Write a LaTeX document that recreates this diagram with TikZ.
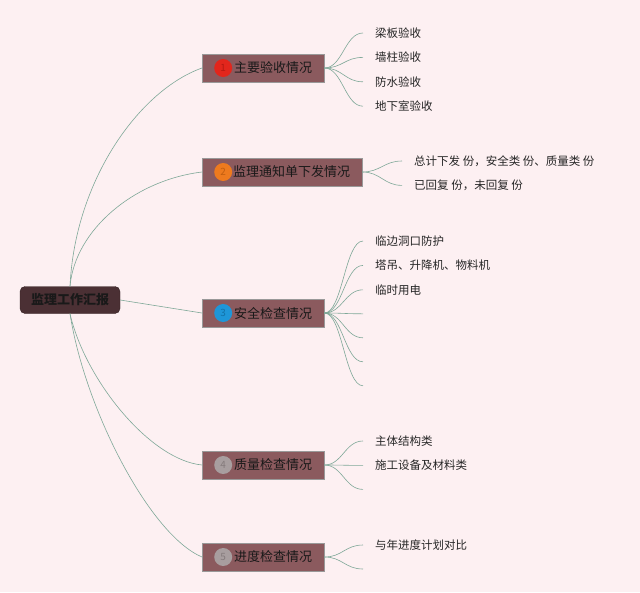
\documentclass[tikz,border=0pt]{standalone}
\usepackage{fontspec}
\newfontfamily\cjk{Noto Sans CJK SC}
\usetikzlibrary{positioning}
\definecolor{bgpink}{HTML}{FDF0F2}
\definecolor{boxbrown}{HTML}{8B5A5E}
\definecolor{rootbrown}{HTML}{4B3034}
\definecolor{linkgreen}{HTML}{7FA898}
\definecolor{dotred}{HTML}{E2261C}
\definecolor{numred}{HTML}{B51A12}
\definecolor{dotorange}{HTML}{EE7A1E}
\definecolor{numorange}{HTML}{C25E10}
\definecolor{dotblue}{HTML}{1E96D8}
\definecolor{numblue}{HTML}{1272A8}
\definecolor{dotgray}{HTML}{A89E9F}
\definecolor{numgray}{HTML}{857B7C}
\tikzstyle{root}=[
	rectangle,
	draw=rootbrown!70!black,
	fill=rootbrown,
	rounded corners=5pt,
	text=black!90,
	minimum width=100pt,
	minimum height=27pt,
	inner sep=0pt,
	font=\cjk\bfseries\fontsize{13pt}{15pt}\selectfont]
\tikzstyle{branch}=[
	rectangle,
	draw=black!40,
	fill=boxbrown,
	anchor=west,
	text=black!90,
	align=right,
	text width=98pt,
	minimum height=28pt,
	inner xsep=12pt,
	inner ysep=0pt,
	font=\cjk\fontsize{13pt}{15pt}\selectfont]
\tikzstyle{numdot}=[
	circle,
	inner sep=0pt,
	minimum size=18pt,
	font=\cjk\fontsize{10pt}{10pt}\selectfont]
\tikzstyle{leaf}=[
	anchor=west,
	text=black!85,
	minimum height=24pt,
	inner xsep=12pt,
	inner ysep=0pt,
	font=\cjk\fontsize{11.5pt}{13pt}\selectfont]
\tikzstyle{link}=[draw=linkgreen, line width=0.6pt]

\begin{document}
\begin{tikzpicture}[x=1pt, y=-1pt]

		\fill[bgpink] (0,0) rectangle (640,592);

		\node (root) [root] at (70,300) {监理工作汇报};

		% branches
		\node (b1) [branch] at (202,68) {主要验收情况};
		\node (b2) [branch, text width=136pt] at (202,172) {监理通知单下发情况};
		\node (b3) [branch] at (202,313) {安全检查情况};
		\node (b4) [branch] at (202,465) {质量检查情况};
		\node (b5) [branch] at (202,557) {进度检查情况};

		\node (n1) [numdot, fill=dotred, text=numred, right=12pt of b1.west] {1};
		\node (n2) [numdot, fill=dotorange, text=numorange, right=12pt of b2.west] {2};
		\node (n3) [numdot, fill=dotblue, text=numblue, right=12pt of b3.west] {3};
		\node (n4) [numdot, fill=dotgray, text=numgray, right=12pt of b4.west] {4};
		\node (n5) [numdot, fill=dotgray, text=numgray, right=12pt of b5.west] {5};

		% leaves
		\node (b1a) [leaf] at (363,33) {梁板验收};
		\node (b1b) [leaf, below=0pt of b1a.south west, anchor=north west] {墙柱验收};
		\node (b1c) [leaf, below=0pt of b1b.south west, anchor=north west] {防水验收};
		\node (b1d) [leaf, below=0pt of b1c.south west, anchor=north west] {地下室验收};

		\node (b2a) [leaf] at (402,161) {总计下发 份，安全类 份、质量类 份};
		\node (b2b) [leaf, below=0pt of b2a.south west, anchor=north west] {已回复 份，未回复 份};

		\node (b3a) [leaf] at (363,241) {临边洞口防护};
		\node (b3b) [leaf, below=0pt of b3a.south west, anchor=north west] {塔吊、升降机、物料机};
		\node (b3c) [leaf, below=0pt of b3b.south west, anchor=north west] {临时用电};
		\coordinate [below=24pt of b3c.west] (b3d);
		\coordinate [below=24pt of b3d] (b3e);
		\coordinate [below=24pt of b3e] (b3f);
		\coordinate [below=24pt of b3f] (b3g);

		\node (b4a) [leaf] at (363,441) {主体结构类};
		\node (b4b) [leaf, below=0pt of b4a.south west, anchor=north west] {施工设备及材料类};
		\coordinate [below=24pt of b4b.west] (b4c);

		\node (b5a) [leaf] at (363,545) {与年进度计划对比};
		\coordinate [below=24pt of b5a.west] (b5b);

		% root to branches
		\draw[link] (root.north) .. controls +(5,-107) and +(-62,22) .. (b1.west);
		\draw[link] (root.north) .. controls +(5,-57) and +(-67,8) .. (b2.west);
		\draw[link] (root.east) -- (b3.west);
		\draw[link] (root.south) .. controls +(15,66) and +(-52,-5) .. (b4.west);
		\draw[link] (root.south) .. controls +(15,96) and +(-52,-22) .. (b5.west);

		% branches to leaves
		\foreach \leafname in {b1a,b1b,b1c,b1d}
			\draw[link] (b1.east) .. controls +(18,0) and +(-18,0) .. (\leafname.west);
		\foreach \leafname in {b2a,b2b}
			\draw[link] (b2.east) .. controls +(18,0) and +(-18,0) .. (\leafname.west);
		\foreach \leafname in {b3a.west,b3b.west,b3c.west,b3d,b3e,b3f,b3g}
			\draw[link] (b3.east) .. controls +(18,0) and +(-18,0) .. (\leafname);
		\foreach \leafname in {b4a.west,b4b.west,b4c}
			\draw[link] (b4.east) .. controls +(18,0) and +(-18,0) .. (\leafname);
		\foreach \leafname in {b5a.west,b5b}
			\draw[link] (b5.east) .. controls +(18,0) and +(-18,0) .. (\leafname);

	\end{tikzpicture}
\end{document}
